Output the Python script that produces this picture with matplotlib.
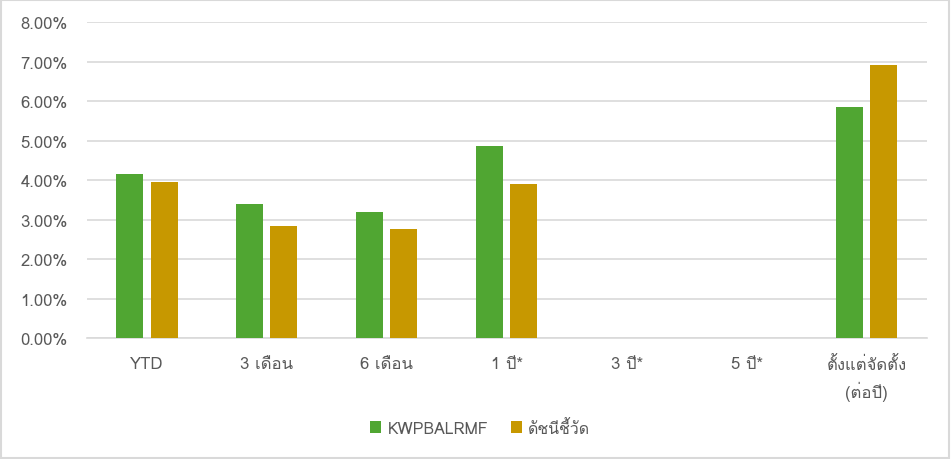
import matplotlib
matplotlib.use("Agg")
import matplotlib.pyplot as plt
from matplotlib.patches import Rectangle
from matplotlib.ticker import FuncFormatter
import numpy as np

# data (percent)
periods = ["YTD", "3 เดือน", "6 เดือน", "1 ปี*", "3 ปี*", "5 ปี*", "ตั้งแต่จัดตั้ง\n(ต่อปี)"]
fund = [4.17, 3.41, 3.21, 4.88, np.nan, np.nan, 5.85]
benchmark = [3.95, 2.86, 2.78, 3.90, np.nan, np.nan, 6.93]
series_names = ["KWPBALRMF", "ดัชนีชี้วัด"]

plt.rcParams['font.family'] = ['Loma', 'DejaVu Sans']
grey = '#595959'

fig = plt.figure(figsize=(9.51, 4.6), dpi=100)
ax = fig.add_axes([0.0915, 0.262, 0.883, 0.687])

x = np.arange(len(periods))
w = 0.225
b1 = ax.bar(x - 0.142, fund, w, color='#50A632', label=series_names[0], zorder=3)
b2 = ax.bar(x + 0.142, benchmark, w, color='#C79800', label=series_names[1], zorder=3)

ax.set_xlim(-0.5, len(periods) - 0.5)
ax.set_ylim(0, 8)
ax.set_yticks(np.arange(0, 9, 1))
ax.yaxis.set_major_formatter(FuncFormatter(lambda v, p: "%.2f%%" % v))
ax.set_xticks(x)
ax.set_xticklabels(periods, linespacing=1.5)
ax.tick_params(axis='both', length=0, colors=grey, labelsize=12)
ax.tick_params(axis='x', pad=12.5)
ax.tick_params(axis='y', pad=14)
ax.grid(axis='y', color='#d9d9d9', linewidth=1.2, zorder=0)
for s in ['top', 'right', 'left']:
    ax.spines[s].set_visible(False)
ax.spines['bottom'].set_color('#d9d9d9')
ax.spines['bottom'].set_linewidth(1.2)

leg = fig.legend(handles=[b1, b2], loc='center', bbox_to_anchor=(0.505, 0.067),
                 ncol=2, frameon=False, fontsize=11.5, handlelength=0.7,
                 handleheight=0.7, handletextpad=0.4, columnspacing=1.4)
for t in leg.get_texts():
    t.set_color(grey)

fig.patches.append(Rectangle((0.001, 0.002), 0.997, 0.996, transform=fig.transFigure,
                             fill=False, edgecolor='#d9d9d9', linewidth=1.5))

fig.savefig("out.png", dpi=100)
